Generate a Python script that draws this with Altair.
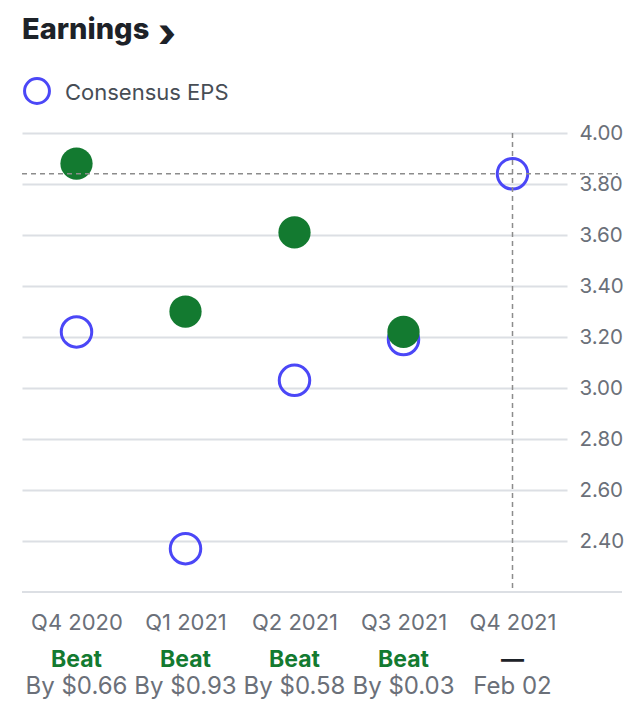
import altair as alt
import pandas as pd

quarters = ["Q4 2020", "Q1 2021", "Q2 2021", "Q3 2021", "Q4 2021"]
consensus = [3.22, 2.37, 3.03, 3.19, 3.84]
actual = [3.88, 3.30, 3.61, 3.22, None]
result = ["Beat", "Beat", "Beat", "Beat", "—"]
detail = ["By $0.66", "By $0.93", "By $0.58", "By $0.03", "Feb 02"]
y_ticks = [2.4, 2.6, 2.8, 3.0, 3.2, 3.4, 3.6, 3.8, 4.0]

FONT = "Inter"
GREEN = "#137a30"
BLUE = "#4b47f7"
GREY = "#6b7079"
GRID = "#dcdfe4"
DASH = "#8c8c8c"
W, H = 545, 459

df = pd.DataFrame({"quarter": quarters, "consensus": consensus, "actual": actual,
                   "result": result, "detail": detail})

xs = alt.X("quarter:N", sort=quarters, scale=alt.Scale(type="point", padding=0.5),
           axis=alt.Axis(title=None, labelFont=FONT, labelFontSize=22, labelColor=GREY,
                         labelPadding=37, labelBaseline="alphabetic", ticks=False,
                         domain=False, grid=False, labelAngle=0))
yscale = alt.Scale(domain=[2.2, 4.0], nice=False, zero=False)
yaxis = alt.Axis(orient="right", values=y_ticks, format=".2f", title=None, labelFont=FONT,
                 labelFontSize=20.5, labelColor=GREY, labelPadding=12, labelAlign="left",
                 ticks=False, domain=False, gridColor=GRID, gridWidth=2)

base = alt.Chart(df)

cons = base.mark_point(shape="circle", filled=False, size=930, strokeWidth=3,
                       color=BLUE, opacity=1).encode(
    x=xs, y=alt.Y("consensus:Q", scale=yscale, axis=yaxis))

act = base.transform_filter("isValid(datum.actual)").mark_circle(
    size=1040, color=GREEN, opacity=1).encode(
    x=xs, y=alt.Y("actual:Q", scale=yscale, axis=yaxis))

last = base.transform_filter(alt.datum.quarter == quarters[-1])
hline = last.mark_rule(color=DASH, strokeDash=[5, 4], strokeWidth=1.5).encode(
    y=alt.Y("consensus:Q", scale=yscale, axis=yaxis), x=alt.value(0), x2=alt.value(596))
vline = last.mark_rule(color=DASH, strokeDash=[5, 4], strokeWidth=1.5).encode(
    x=xs, y=alt.value(0), y2=alt.value(H))

one = alt.Chart(pd.DataFrame({"t": ["Earnings"]}))
bottom = one.mark_rule(color=GRID, strokeWidth=2).encode(
    y=alt.value(H), x=alt.value(0), x2=alt.value(600))

res_txt = base.mark_text(font=FONT, fontSize=23, fontWeight="bold", baseline="alphabetic").encode(
    x=xs, y=alt.value(534), text="result:N",
    color=alt.Color("result:N", scale=alt.Scale(domain=["Beat", "—"], range=[GREEN, "#1d2228"]),
                    legend=None))
det_txt = base.mark_text(font=FONT, fontSize=24, baseline="alphabetic", color=GREY).encode(
    x=xs, y=alt.value(561), text="detail:N")

title = one.mark_text(font=FONT, fontSize=29, fontWeight=800, align="left",
                      baseline="alphabetic", color="#1d2228").encode(
    x=alt.value(0), y=alt.value(-94), text="t:N")
chev = one.mark_text(font=FONT, fontSize=40, fontWeight=800, align="left",
                     baseline="alphabetic", color="#1d2228").encode(
    x=alt.value(136), y=alt.value(-86), text=alt.value("›"))

leg_sym = one.mark_point(shape="circle", filled=False, size=620, strokeWidth=3,
                         color=BLUE, opacity=1).encode(x=alt.value(15), y=alt.value(-42))
leg_txt = one.mark_text(font=FONT, fontSize=22, align="left", baseline="alphabetic",
                        color="#474d55").encode(
    x=alt.value(43), y=alt.value(-33), text=alt.value("Consensus EPS"))

chart = alt.layer(cons, act, hline, vline, bottom, res_txt, det_txt, title, chev,
                  leg_sym, leg_txt).properties(
    width=W, height=H,
    autosize=alt.AutoSizeParams(type="none"),
    padding={"left": 14, "top": 125, "right": 61, "bottom": 110},
).configure_view(stroke=None)

chart.save("out.html", embed_options={"renderer": "svg", "actions": False})
